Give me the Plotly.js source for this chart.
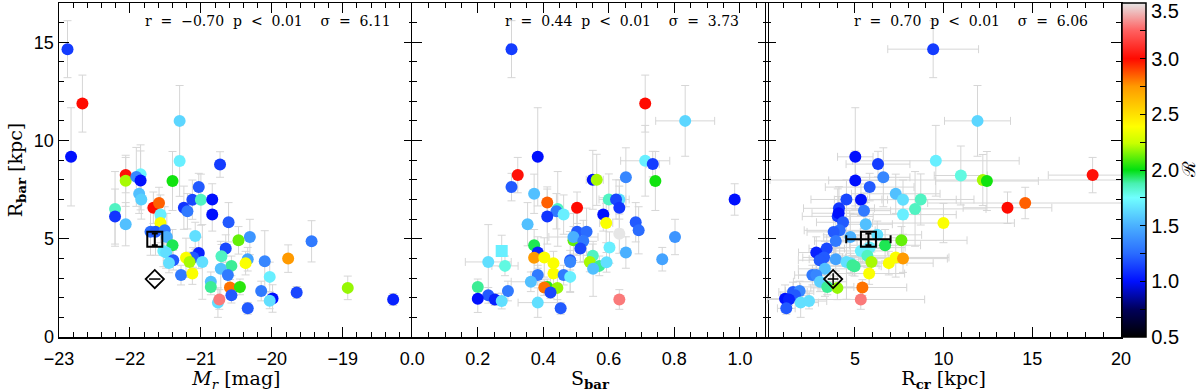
<!DOCTYPE html>
<html>
<head>
<meta charset="utf-8">
<script src="https://cdn.plot.ly/plotly-3.0.1.min.js"></script>
<style>
  html, body { margin: 0; padding: 0; background: #fff; }
  #plot { width: 1200px; height: 392px; }
</style>
</head>
<body>
<div id="plot"></div>
<script>
// ---------- panel 1: M_r vs R_bar ----------
const mrX = [-22.88,-22.67,-22.83,-21.30,-21.30,-20.73,-21.85,-22.06,-22.06,-21.91,-21.85,-21.40,-21.03,-21.12,-21.00,-21.87,-21.84,-20.84,-22.21,-22.21,-22.06,-21.67,-21.59,-21.57,-21.57,-21.24,-21.19,-20.84,-20.61,-21.71,-21.64,-21.51,-21.48,-21.08,-20.31,-20.47,-19.44,-21.40,-21.53,-21.49,-21.03,-20.65,-20.71,-21.39,-21.45,-21.11,-21.21,-21.16,-20.98,-20.34,-20.37,-20.10,-19.77,-20.57,-20.72,-21.28,-21.12,-20.62,-20.03,-20.86,-20.86,-20.59,-20.45,-18.93,-20.15,-19.65,-20.57,-19.99,-20.03,-18.29,-20.76,-20.74,-20.34];
const mrY = [14.65,11.88,9.17,11.0,8.96,8.78,8.28,8.24,7.95,8.15,7.97,7.94,7.63,6.99,6.99,7.29,7.0,7.0,6.52,6.13,5.74,6.58,6.82,6.23,5.80,6.58,6.40,6.24,5.84,5.36,5.36,5.43,5.09,5.14,5.09,4.92,4.87,4.67,4.38,4.30,4.28,4.50,4.11,3.91,3.77,4.05,4.03,3.82,3.82,3.96,3.76,3.86,3.99,3.62,3.47,3.15,3.23,3.15,3.06,2.81,2.55,2.52,2.55,2.50,2.34,2.27,2.13,1.96,1.84,1.91,1.75,1.91,1.46];
const mrR = [1.12,3.0,1.0,1.62,1.7,1.12,1.72,3.02,2.2,1.35,1.0,2.02,1.2,1.15,1.85,1.55,1.6,1.0,1.85,1.1,1.55,3.0,2.85,1.7,2.38,1.1,1.3,1.0,1.2,1.25,1.2,1.3,1.5,1.65,1.4,2.12,1.3,1.95,1.7,1.65,1.05,1.15,1.85,1.2,1.65,1.2,2.38,2.2,1.65,1.45,2.38,1.35,2.75,1.9,1.55,1.3,2.38,1.3,1.7,1.55,1.9,2.82,2.05,2.18,1.3,1.15,1.2,1.0,1.65,1.05,1.65,3.3,1.2];
const mrErrY = [1.45,1.45,2.5,1.8,1.8,0.65,1.5,0.9,1.3,1.5,1.5,1.5,0.7,1.0,1.3,1.0,1.0,0.8,1.9,1.4,1.1,0.8,0.8,1.0,1.0,1.1,0.9,0.85,1.0,1.2,1.2,1.2,1.2,0.7,0.9,0.7,1.05,0.8,0.8,0.8,0.8,0.7,0.6,0.5,0.5,0.5,1.0,0.5,1.9,0.6,0.6,1.55,0.7,0.5,1.4,0.5,0.55,0.5,0.75,0.5,0.4,0.4,0.4,0.6,0.5,0.3,0.4,0.7,0.4,0.3,0.75,0.5,0.3];

// ---------- panel 2: S_bar vs R_bar ----------
const sbX = [0.303,0.711,0.833,0.383,0.711,0.734,0.322,0.742,0.551,0.563,0.652,0.303,0.372,0.412,0.503,0.600,0.632,0.622,0.632,0.444,0.440,0.462,0.412,0.583,0.352,0.592,0.682,0.691,0.503,0.532,0.632,0.492,0.492,0.522,0.802,0.513,0.372,0.602,0.273,0.383,0.652,0.372,0.403,0.551,0.763,0.232,0.482,0.482,0.431,0.542,0.571,0.593,0.283,0.552,0.383,0.431,0.462,0.482,0.362,0.200,0.412,0.403,0.443,0.292,0.232,0.422,0.200,0.252,0.273,0.383,0.632,0.453,0.984];
const sbY = [14.65,11.88,11.0,9.17,8.97,8.80,8.24,7.94,8.00,8.00,8.13,7.63,7.29,6.84,6.58,7.00,7.00,7.00,6.58,6.52,6.40,6.23,6.13,6.24,5.74,5.80,5.84,5.43,5.36,5.36,5.26,4.92,5.09,4.89,5.09,4.50,4.67,4.55,4.38,4.30,4.30,4.03,4.05,4.13,3.96,3.82,3.91,3.82,3.76,3.82,3.62,3.80,3.62,3.47,3.15,3.23,3.15,3.06,2.81,2.55,2.55,2.52,2.50,2.34,2.12,2.27,1.95,1.91,1.83,1.75,1.91,1.46,7.00];
const sbR = [1.12,3.0,1.62,1.0,1.7,1.12,3.02,2.02,1.0,2.2,1.35,1.2,1.55,2.85,3.0,1.85,1.65,1.15,1.1,1.85,1.3,1.7,1.1,1.0,1.55,2.38,1.2,1.25,1.2,1.25,3.5,2.12,1.5,1.3,1.4,1.15,1.95,1.7,1.7,1.05,1.5,2.75,2.38,1.85,1.45,1.65,1.2,1.35,2.38,2.2,1.9,1.65,1.8,1.55,1.3,2.38,1.3,1.7,1.55,1.9,2.05,2.82,2.18,1.3,1.2,1.15,1.0,1.05,1.65,1.65,3.3,1.2,1.0];
const sbErrX = [0.01,0.01,0.09,0.01,0.075,0.02,0.01,0.01,0.02,0.02,0.01,0.01,0.01,0.01,0.01,0.03,0.03,0.03,0.01,0.01,0.01,0.01,0.01,0.01,0.01,0.02,0.01,0.01,0.01,0.01,0.01,0.01,0.075,0.01,0.01,0.01,0.01,0.01,0.01,0.01,0.01,0.01,0.01,0.01,0.01,0.07,0.01,0.01,0.01,0.01,0.01,0.01,0.04,0.01,0.01,0.01,0.01,0.01,0.06,0.01,0.01,0.01,0.01,0.01,0.01,0.01,0.01,0.01,0.01,0.06,0.01,0.01,0.01];
const sbErrY = [1.45,1.45,1.8,2.5,1.8,0.65,0.9,1.5,1.5,1.3,1.5,0.7,1.0,0.8,0.8,1.3,1.0,1.0,1.1,1.9,0.9,1.0,1.4,0.85,1.1,1.0,1.0,1.2,1.2,1.2,1.0,0.7,1.2,1.05,0.9,0.7,0.8,0.8,0.8,0.8,0.8,0.7,1.0,0.6,0.6,1.9,0.5,1.55,0.6,0.5,0.5,0.5,0.5,1.4,0.5,0.55,0.5,0.75,0.5,0.4,0.4,0.4,0.6,0.5,0.4,0.3,0.7,0.3,0.4,0.75,0.5,0.3,0.8];
const sbSquarePoints = [38];   // the one galaxy drawn as a square

// ---------- panel 3: R_cr vs R_bar ----------
const rcX = [9.41,18.4,11.91,9.56,5.02,6.30,12.21,12.44,5.02,6.60,10.97,5.83,7.30,4.52,5.34,7.71,8.71,8.39,13.6,14.6,4.10,5.51,7.71,4.03,4.08,4.33,9.99,5.61,4.14,3.80,4.74,6.26,3.92,7.62,6.70,3.41,5.83,2.82,5.33,5.70,7.30,7.71,3.26,3.01,3.92,4.52,4.76,5.93,6.91,4.86,4.98,3.31,2.60,2.82,5.80,3.03,3.44,4.01,5.42,1.51,1.88,1.62,1.06,1.28,1.94,2.41,5.33,1.13];
const rcY = [14.65,8.24,11.0,8.97,9.17,8.80,7.99,7.94,7.97,8.13,8.22,7.63,7.29,7.00,6.99,6.99,7.00,6.52,6.58,6.82,6.55,6.43,6.23,6.14,6.30,5.84,5.80,5.74,5.43,5.35,5.09,5.20,4.89,4.92,4.67,4.50,4.55,4.30,4.38,4.13,4.05,3.99,4.05,3.91,3.96,3.82,3.76,3.82,3.76,3.65,3.60,3.47,3.15,3.15,3.23,2.81,2.55,2.50,2.52,2.29,2.34,2.12,1.95,1.91,1.75,1.83,1.91,1.46];
const rcR = [1.12,3.02,1.62,1.7,1.0,1.12,2.2,2.02,1.0,1.35,1.8,1.2,1.55,1.15,1.0,1.65,1.85,1.85,3.0,2.85,1.1,1.3,1.7,1.1,1.0,1.2,2.38,1.55,1.25,1.2,1.5,1.65,1.3,2.12,1.95,1.15,1.7,1.05,1.7,1.85,2.38,2.75,1.2,1.2,1.45,1.65,1.65,2.2,2.38,1.9,1.9,1.55,1.3,1.35,2.38,1.6,1.9,2.18,2.82,1.2,1.35,1.2,1.0,1.05,1.65,1.65,3.3,1.2];
const rcErrX = [2.56,2.5,1.86,4.7,1.0,1.8,12,2.9,1.5,1.5,1.5,2.5,2.5,2.0,1.5,3.0,3.0,4.0,2.5,5.5,2.0,1.5,3.0,2.0,1.5,1.5,4.0,1.5,2.0,1.5,1.5,2.5,1.2,3.7,2.0,1.0,2.0,1.0,1.5,2.0,3.0,2.5,1.2,1.2,1.5,1.5,1.5,2.0,2.5,1.5,1.5,1.5,1.0,1.0,2.0,1.5,1.5,1.5,2.5,0.8,0.8,0.8,1.0,1.2,1.0,1.0,3.6,0.5];
const rcErrY = [1.45,0.9,1.8,1.8,2.5,0.65,1.3,1.5,1.5,1.5,1.5,0.7,1.0,1.0,0.8,1.0,1.3,1.9,0.8,0.8,1.1,0.9,1.0,1.4,0.85,1.0,1.0,1.1,1.2,1.2,1.2,0.7,1.05,0.7,0.8,0.7,0.8,0.8,0.8,0.6,1.0,0.7,0.5,0.5,0.6,1.9,0.5,0.5,0.6,0.5,0.5,1.4,0.5,0.5,0.55,0.5,0.4,0.6,0.4,0.5,0.5,0.4,0.7,0.3,0.75,0.4,0.5,0.3];

// ---------- reference galaxies (black symbols) ----------
const refSquareMr = [-21.65], refSquareRcr = [5.76], refSquareRbar = [4.97];
const refSquareErrRbar = [0.3], refSquareErrRcr = [1.25];
const refDiamondMr = [-21.65], refDiamondRcr = [3.77], refDiamondRbar = [2.95];

// ---------- statistics text ----------
const statsText = [
    "r  =  \u22120.70  p  <  0.01    \u03c3  =  6.11",
    "r  =  0.44  p  <  0.01    \u03c3  =  3.73",
    "r  =  0.70  p  <  0.01    \u03c3  =  6.06"
];

// ---------- colour bar ----------
const cbMin = 0.5, cbMax = 3.5;
const cbTickVals = [0.5,0.75,1.0,1.25,1.5,1.75,2.0,2.25,2.5,2.75,3.0,3.25,3.5];
// top label is drawn separately so that it is not cut at the top edge
const cbTickText = ["0.5","","1.0","","1.5","","2.0","","2.5","","3.0","",""];
const cbTopLabel = "3.5";

// IDL-like rainbow + white
const rainbowWhite = [
    [0.000, "#000000"],
    [0.083, "#00005a"],
    [0.167, "#0010ff"],
    [0.250, "#2a6cff"],
    [0.333, "#4ab0ff"],
    [0.417, "#70ffff"],
    [0.460, "#48f0b0"],
    [0.500, "#00e010"],
    [0.580, "#c8ff00"],
    [0.630, "#ffff00"],
    [0.750, "#ff9a00"],
    [0.833, "#ff0a00"],
    [0.917, "#ff6060"],
    [1.000, "#e6e6e6"]
];

const ERR_GREY = "#d6d6d6";
const serif = "DejaVu Serif, Liberation Serif, serif";
const sans = "Liberation Sans, Arial, sans-serif";

function panelTrace(x, y, c, ex, ey, xa, ya, showScale, symbols) {
    const t = {
        x: x, y: y,
        xaxis: xa, yaxis: ya,
        type: "scatter",
        mode: "markers",
        marker: {
            size: 12,
            color: c,
            cmin: cbMin, cmax: cbMax,
            colorscale: rainbowWhite,
            symbol: symbols || "circle",
            line: { width: 0 },
            showscale: showScale
        },
        error_y: { type: "data", array: ey, color: ERR_GREY, thickness: 1, width: 4 },
        hoverinfo: "skip",
        showlegend: false
    };
    if (ex) {
        t.error_x = { type: "data", array: ex, color: ERR_GREY, thickness: 1, width: 4 };
    }
    if (showScale) {
        t.marker.colorbar = {
            x: 1.001, xanchor: "left", xpad: 0,
            y: 0.5, yanchor: "middle", ypad: 0,
            len: 1, lenmode: "fraction",
            thickness: 24,
            outlinecolor: "#000", outlinewidth: 1.5,
            ticks: "inside", ticklen: 6, tickwidth: 1, tickcolor: "#000",
            tickvals: cbTickVals, ticktext: cbTickText,
            ticklabeloverflow: "allow",
            tickfont: { family: sans, size: 20, color: "#000" }
        };
    }
    return t;
}

const sbSymbols = sbX.map((_, i) => sbSquarePoints.includes(i) ? "square" : "circle");

const traces = [
    panelTrace(mrX, mrY, mrR, null, mrErrY, "x", "y", false),
    panelTrace(sbX, sbY, sbR, sbErrX, sbErrY, "x2", "y2", false, sbSymbols),
    panelTrace(rcX, rcY, rcR, rcErrX, rcErrY, "x3", "y3", true),

    // panel 1 reference symbols
    {
        x: refSquareMr, y: refSquareRbar, xaxis: "x", yaxis: "y",
        type: "scatter", mode: "markers",
        marker: { symbol: "square-open", size: 15, color: "#000", line: { width: 2 } },
        error_y: { type: "data", array: refSquareErrRbar, color: "#000", thickness: 2, width: 3 },
        showlegend: false, hoverinfo: "skip"
    },
    {
        x: refDiamondMr, y: refDiamondRbar, xaxis: "x", yaxis: "y",
        type: "scatter", mode: "markers",
        marker: { symbol: "diamond-open", size: 14, color: "#000", line: { width: 1.8 } },
        error_x: { type: "data", array: [0.08], color: "#000", thickness: 1.5, width: 0 },
        showlegend: false, hoverinfo: "skip"
    },
    // panel 3 reference symbols
    {
        x: refSquareRcr, y: refSquareRbar, xaxis: "x3", yaxis: "y3",
        type: "scatter", mode: "markers",
        marker: { symbol: "square-open", size: 15, color: "#000", line: { width: 2 } },
        error_x: { type: "data", array: refSquareErrRcr, color: "#000", thickness: 2, width: 4 },
        error_y: { type: "data", array: refSquareErrRbar, color: "#000", thickness: 2, width: 3 },
        showlegend: false, hoverinfo: "skip"
    },
    {
        x: refDiamondRcr, y: refDiamondRbar, xaxis: "x3", yaxis: "y3",
        type: "scatter", mode: "markers",
        marker: { symbol: "diamond-open", size: 14, color: "#000", line: { width: 1.8 } },
        error_x: { type: "data", array: [0.3], color: "#000", thickness: 1.5, width: 0 },
        error_y: { type: "data", array: [0.3], color: "#000", thickness: 1.5, width: 0 },
        showlegend: false, hoverinfo: "skip"
    }
];

function xAxis(domain, range, tickvals, minorDtick, minorTick0, title, fmt) {
    return {
        domain: domain, range: range,
        tickvals: tickvals, tickformat: fmt || "",
        ticks: "inside", ticklen: 10, tickwidth: 1, tickcolor: "#000",
        minor: { ticks: "inside", ticklen: 5, tickwidth: 1, tickcolor: "#000", dtick: minorDtick, tick0: minorTick0 },
        showline: true, linecolor: "#000", linewidth: 1.5, mirror: "allticks",
        showgrid: false, zeroline: false,
        ticklabelstandoff: 5,
        tickfont: { family: sans, size: 18, color: "#000" },
        title: { text: title, font: { family: serif, size: 19, color: "#000" }, standoff: 9 }
    };
}

function yAxis(anchor, showLabels) {
    return {
        domain: [0, 1], range: [0, 17], anchor: anchor,
        tickvals: [0, 5, 10, 15], showticklabels: showLabels,
        ticks: "inside", ticklen: 10, tickwidth: 1, tickcolor: "#000",
        minor: { ticks: "inside", ticklen: 5, tickwidth: 1, tickcolor: "#000", dtick: 1, tick0: 0 },
        showline: true, linecolor: "#000", linewidth: 1.5, mirror: "allticks",
        showgrid: false, zeroline: false,
        tickfont: { family: sans, size: 18, color: "#000" },
        title: showLabels ? { text: "R<sub><b>bar</b></sub> [kpc]", font: { family: serif, size: 19, color: "#000" }, standoff: 6 } : { text: "" }
    };
}

// adjacent frames share one border line
const third = 1 / 3, ov = 0.0007;

const layout = {
    width: 1200, height: 392,
    margin: { l: 59, r: 79, t: 3, b: 55, autoexpand: false },
    paper_bgcolor: "#fff", plot_bgcolor: "#fff",
    xaxis: xAxis([0, third + ov], [-23, -18], [-23, -22, -21, -20, -19], 0.2, -23, "<i>M<sub>r</sub></i> [mag]"),
    xaxis2: Object.assign(xAxis([third - ov, 2 * third + ov], [0, 1.085], [0, 0.2, 0.4, 0.6, 0.8, 1.0], 0.05, 0, "S<sub><b>bar</b></sub>", ".1f"), { anchor: "y2" }),
    xaxis3: Object.assign(xAxis([2 * third - ov, 1], [0, 20], [5, 10, 15, 20], 1, 0, "R<sub><b>cr</b></sub> [kpc]"), { anchor: "y3" }),
    yaxis: yAxis("x", true),
    yaxis2: yAxis("x2", false),
    yaxis3: yAxis("x3", false),
    annotations: [
        { text: statsText[0], xref: "x domain", yref: "paper", x: 0.59, y: 0.975, xanchor: "center", yanchor: "top", showarrow: false, font: { family: serif, size: 14, color: "#000" } },
        { text: statsText[1], xref: "x2 domain", yref: "paper", x: 0.59, y: 0.975, xanchor: "center", yanchor: "top", showarrow: false, font: { family: serif, size: 14, color: "#000" } },
        { text: statsText[2], xref: "x3 domain", yref: "paper", x: 0.577, y: 0.975, xanchor: "center", yanchor: "top", showarrow: false, font: { family: serif, size: 14, color: "#000" } },
        { text: "\u211b", xref: "paper", yref: "paper", x: 1.0, xshift: 1188 - 1121, y: 0.5, xanchor: "center", yanchor: "middle", textangle: -90, showarrow: false, font: { family: serif, size: 18, color: "#000" } },
        { text: cbTopLabel, xref: "paper", yref: "paper", x: 1.0, xshift: 1149 - 1121, y: 1.0, yshift: -8, xanchor: "left", yanchor: "middle", showarrow: false, font: { family: sans, size: 20, color: "#000" } }
    ]
};

Plotly.newPlot("plot", traces, layout, { displayModeBar: false, staticPlot: true });
</script>
</body>
</html>
